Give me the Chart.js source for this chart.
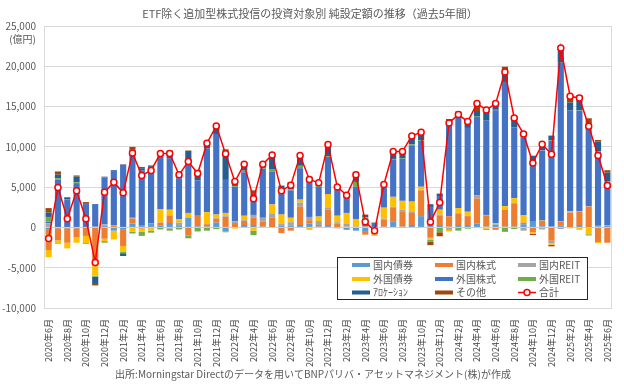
<!DOCTYPE html>
<html>
<head>
<meta charset="utf-8">
<script src="https://cdn.jsdelivr.net/npm/chart.js@4.4.1/dist/chart.umd.min.js"></script>
<style>
  html, body { margin: 0; padding: 0; background: #fff; }
  #wrap { width: 624px; height: 384px; position: relative; }
</style>
</head>
<body>
<div id="wrap"><canvas id="chart"></canvas></div>
<script>
"use strict";

const months = [
  "2020年6月", "2020年7月", "2020年8月", "2020年9月", "2020年10月", "2020年11月", "2020年12月",
  "2021年1月", "2021年2月", "2021年3月", "2021年4月", "2021年5月", "2021年6月",
  "2021年7月", "2021年8月", "2021年9月", "2021年10月", "2021年11月", "2021年12月",
  "2022年1月", "2022年2月", "2022年3月", "2022年4月", "2022年5月", "2022年6月",
  "2022年7月", "2022年8月", "2022年9月", "2022年10月", "2022年11月", "2022年12月",
  "2023年1月", "2023年2月", "2023年3月", "2023年4月", "2023年5月", "2023年6月",
  "2023年7月", "2023年8月", "2023年9月", "2023年10月", "2023年11月", "2023年12月",
  "2024年1月", "2024年2月", "2024年3月", "2024年4月", "2024年5月", "2024年6月",
  "2024年7月", "2024年8月", "2024年9月", "2024年10月", "2024年11月", "2024年12月",
  "2025年1月", "2025年2月", "2025年3月", "2025年4月", "2025年5月", "2025年6月",
];

// 億円
const domBond = [
  -300, -100, -100, -100, -50, 100, 200, -400, -300, 500,
  300, 500, 200, 550, 200, 1200, 150, 100, 600, -500,
  50, 300, 300, 100, 50, 200, 250, 300, 500, 100,
  300, 50, -300, -400, -450, -50, 100, 700, 100, 300,
  1400, 550, 300, 100, 300, 300, 500, 100, 300, 100,
  100, 400, 700, 150, 150, 200, 50, 300, 50, 150, 250,
];
const domEquity = [
  -2500, -1500, -1800, -1100, -1000, -4600, -1400, 200, -2000, 600,
  -150, -100, 400, 950, 100, -1000, 1300, 300, 500, 1300,
  500, 500, 950, 600, 1200, -700, -400, 2300, 400, 200,
  1900, 400, 100, 100, -450, -800, 900, 1800, 1900, 1500,
  3200, -1200, 1200, 1300, 1450, 1100, 3100, 1400, -300, 2100,
  2900, 200, -600, 650, -1650, 500, 1800, 1650, 2550, -1800, -1900,
];
const domReit = [
  500, 0, 0, 0, 0, 0, 200, 100, 0, 100,
  0, 0, 50, -150, 300, 0, 0, 0, 100, 100,
  200, 100, 300, 500, 500, 300, 400, 500, 400, 500,
  300, 200, 400, 50, 0, 0, 100, 50, 200, 200,
  100, -150, 100, -300, 50, 50, 400, 50, 100, 50,
  50, -400, 0, -250, -300, -200, 100, 50, 50, 50, 50,
];
const forBond = [
  -900, -450, -700, -700, -900, -1400, -300, -1100, -700, -550,
  -400, -300, 1600, 700, 400, 600, 0, 1500, 400, 400,
  -150, 550, -400, 0, 1100, 1100, 550, 350, -300, 550,
  1650, 800, 1300, 900, 100, -200, 1350, 1250, 1100, 1200,
  350, -200, 600, -200, 600, 500, 0, -150, 150, 400,
  580, 900, -200, 50, -200, 50, 50, -300, -850, -150, 0,
];
const forEquity = [
  200, 5900, 3400, 5500, 2900, 2800, 5800, 6700, 7800, 7800,
  6800, 6800, 6700, 6400, 5100, 6600, 4400, 7900, 10000, 4100,
  4300, 5400, 2200, 6100, 4100, 3200, 3400, 3900, 4700, 3700,
  4600, 3200, 2100, 4000, 950, 550, 2500, 4650, 5200, 7000,
  5700, 2000, 1700, 11700, 11300, 10400, 9700, 11700, 14000, 15300,
  8800, 9700, 7500, 8700, 10600, 19700, 12500, 12500, 9900, 9200, 5400,
];
const forReit = [
  600, 200, 50, 100, -100, -100, -200, 0, -200, -200,
  -500, -250, -250, -250, -250, -350, -500, -400, -200, -100,
  100, 200, -550, 100, 300, 100, 100, 300, 100, 100,
  100, 100, 100, 600, 200, 0, 50, 50, 50, 100,
  100, -200, -600, 0, -400, -150, 50, -150, 50, -550,
  -200, 250, 0, 50, 50, 0, -100, 50, -150, 50, 50,
];
const allocation = [
  550, 450, 200, 700, 100, -800, 100, 100, -350, 700,
  250, 300, 400, 700, 500, 1100, 800, 850, 900, 3100,
  600, 700, 500, 400, 1400, 250, 850, 1000, 150, 350,
  1000, 350, 200, 1100, 300, 50, 300, 900, 900, 900,
  850, 330, 300, 350, 600, 800, 700, 1500, 900, 1300,
  1250, 400, 700, 900, 600, 1900, 1000, 1250, 200, 1200, 1050,
];
const other = [
  550, 400, 100, 150, 150, -300, 0, 0, 50, 300,
  150, 100, 50, 250, 100, 50, 500, 100, 300, 700,
  100, 100, 350, 50, 300, 50, 100, 250, 50, 0,
  400, -100, 50, 150, 50, 0, 0, 0, -50, 150,
  100, -450, -500, 0, 100, 100, 950, 50, 100, 700,
  100, 100, -150, 50, -200, 100, 900, 600, 800, 200, 300,
];
const total = [
  -1360, 4960, 1070, 4540, 1070, -4340, 4380, 5620, 4290, 9250,
  6450, 7070, 9170, 9170, 6530, 8180, 6690, 10450, 12600, 9130,
  5700, 7850, 3550, 7850, 9000, 4540, 5250, 8930, 5950, 5530,
  10290, 5030, 4000, 6530, 700, -420, 5330, 9420, 9420, 11360,
  11820, 660, 3100, 12970, 14010, 13140, 15370, 14580, 15370, 19300,
  13590, 11610, 8010, 10330, 9090, 22270, 16280, 16070, 12560, 8930, 5210,
];

const yTicks = { min: -10000, max: 25000, step: 5000 };

const titleText = "ETF除く追加型株式投信の投資対象別 純設定額の推移（過去5年間）";
const unitText = "(億円)";
const sourceText = "出所:Morningstar Directのデータを用いてBNPパリバ・アセットマネジメント(株)が作成";

const fontFamily = "'Noto Sans CJK JP', 'Noto Sans', sans-serif";
Chart.defaults.font.family = fontFamily;

function barSet(label, data, color) {
  return {
    type: "bar",
    label: label,
    data: data,
    backgroundColor: color,
    borderWidth: 0,
    stack: "flows",
    order: 1,
    categoryPercentage: 1,
    barPercentage: 0.66,
  };
}

// plot border, header/footer texts and the boxed legend inside the plot
const decorations = {
  id: "decorations",
  beforeDatasetsDraw(chart) {
    const { ctx, chartArea } = chart;
    ctx.save();
    ctx.strokeStyle = "#D9D9D9";
    ctx.lineWidth = 1;
    ctx.strokeRect(chartArea.left + 0.5, chartArea.top + 0.5,
      chartArea.right - chartArea.left - 1, chartArea.bottom - chartArea.top);
    ctx.restore();
  },
  afterDraw(chart) {
    const ctx = chart.ctx;
    ctx.save();
    ctx.fillStyle = "#595959";
    ctx.textBaseline = "middle";
    ctx.textAlign = "center";
    ctx.font = `11px ${fontFamily}`;
    ctx.fillText(titleText, 310, 14);
    ctx.font = `10px ${fontFamily}`;
    ctx.fillText(sourceText, 313, 374);
    ctx.textAlign = "right";
    ctx.fillText(unitText, 36, 39);

    // legend
    const box = { x: 337, y: 257, w: 250, h: 42 };
    ctx.fillStyle = "#fff";
    ctx.fillRect(box.x, box.y, box.w, box.h);
    ctx.strokeStyle = "#262626";
    ctx.lineWidth = 1;
    ctx.strokeRect(box.x + 0.5, box.y + 0.5, box.w, box.h);
    const colX = [352, 435, 518];
    const rowY = [265, 279, 292.5];
    ctx.textAlign = "left";
    ctx.font = `10px ${fontFamily}`;
    chart.data.datasets.forEach((ds, i) => {
      const x = colX[i % 3];
      const y = rowY[Math.floor(i / 3)];
      if (ds.type === "line") {
        ctx.strokeStyle = ds.borderColor;
        ctx.lineWidth = 1.5;
        ctx.beginPath();
        ctx.moveTo(x, y);
        ctx.lineTo(x + 18, y);
        ctx.stroke();
        ctx.beginPath();
        ctx.arc(x + 9, y, 3, 0, Math.PI * 2);
        ctx.fillStyle = "#fff";
        ctx.fill();
        ctx.stroke();
      } else {
        ctx.fillStyle = ds.backgroundColor;
        ctx.fillRect(x, y - 2, 18, 4);
      }
      ctx.fillStyle = "#595959";
      ctx.fillText(ds.label, x + 21, y);
    });
    ctx.restore();
  },
};

new Chart(document.getElementById("chart"), {
  data: {
    labels: months,
    datasets: [
      barSet("国内債券", domBond, "#5B9BD5"),
      barSet("国内株式", domEquity, "#ED7D31"),
      barSet("国内REIT", domReit, "#A5A5A5"),
      barSet("外国債券", forBond, "#FFC000"),
      barSet("外国株式", forEquity, "#4472C4"),
      barSet("外国REIT", forReit, "#70AD47"),
      barSet("ｱﾛｹｰｼｮﾝ", allocation, "#255E91"),
      barSet("その他", other, "#9E480E"),
      {
        type: "line",
        label: "合計",
        data: total,
        stack: "total",
        order: 0,
        borderColor: "#FF0000",
        borderWidth: 1.5,
        pointRadius: 3,
        pointBorderWidth: 1.5,
        pointBackgroundColor: "#FFFFFF",
        pointBorderColor: "#FF0000",
        tension: 0,
      },
    ],
  },
  options: {
    responsive: true,
    maintainAspectRatio: false,
    animation: false,
    devicePixelRatio: 1,
    layout: { padding: { top: 26, right: 12, bottom: 12, left: 0 } },
    plugins: {
      legend: { display: false },
      tooltip: { enabled: false },
      title: { display: false },
    },
    scales: {
      x: {
        stacked: true,
        grid: { display: false },
        border: { display: false },
        ticks: {
          autoSkip: false,
          minRotation: 90,
          maxRotation: 90,
          padding: 3,
          color: "#404040",
          font: { size: 9 },
          callback: function (value, index) {
            return index % 2 === 0 ? this.getLabelForValue(value) : "";
          },
        },
        afterFit(scale) {
          scale.height = 64;
          scale.paddingLeft = 0;
          scale.paddingRight = 0;
        },
      },
      y: {
        stacked: true,
        min: yTicks.min,
        max: yTicks.max,
        border: { display: false },
        grid: {
          drawTicks: false,
          color: (c) => (c.tick && c.tick.value === 0 ? "#D0D0D0" : "#D9D9D9"),
          borderDash: [3, 3],
        },
        ticks: {
          stepSize: yTicks.step,
          padding: 8,
          color: "#595959",
          font: { size: 10 },
        },
        afterFit(scale) {
          scale.width = 44;
        },
      },
    },
  },
  plugins: [decorations],
});
</script>
</body>
</html>
